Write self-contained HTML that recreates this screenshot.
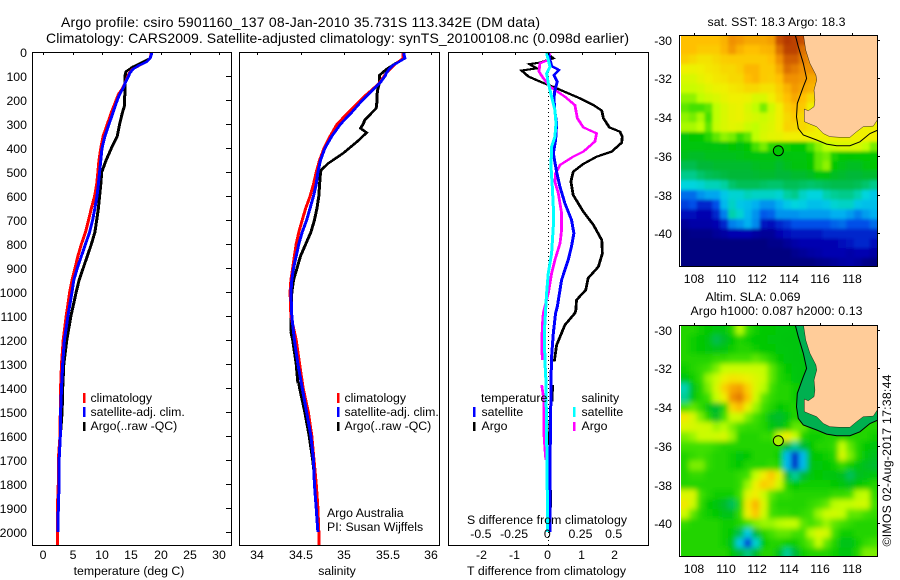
<!DOCTYPE html>
<html>
<head>
<meta charset="utf-8">
<title>Argo profile</title>
<style>
html,body{margin:0;padding:0;background:#fff;}
svg{display:block;}
text{font-family:"Liberation Sans",sans-serif;font-size:12.3px;fill:#000;}
.t{font-size:14px;}
.f{fill:none;stroke:#000;stroke-width:1;shape-rendering:crispEdges;}
.k{stroke:#000;stroke-width:1;shape-rendering:crispEdges;}
.l{fill:none;stroke-linejoin:miter;shape-rendering:crispEdges;}
</style>
</head>
<body>
<svg id="chart" xmlns="http://www.w3.org/2000/svg" width="900" height="580" viewBox="0 0 900 580">
<defs>
<clipPath id="c1"><rect x="33" y="52" width="198" height="493"/></clipPath>
<clipPath id="c2"><rect x="240" y="52" width="199" height="493"/></clipPath>
<clipPath id="c3"><rect x="449" y="52" width="199" height="493"/></clipPath>
<clipPath id="m1"><rect x="681" y="36" width="196" height="230"/></clipPath>
<clipPath id="m2"><rect x="681" y="326" width="196" height="230"/></clipPath>
<filter id="soft1" filterUnits="userSpaceOnUse" x="660" y="20" width="240" height="260"><feGaussianBlur stdDeviation="1.6"/></filter>
<filter id="soft2" filterUnits="userSpaceOnUse" x="660" y="310" width="240" height="260"><feGaussianBlur stdDeviation="2.6"/></filter>
</defs>
<text class="t" x="61" y="27" textLength="479">Argo profile: csiro 5901160_137 08-Jan-2010 35.731S 113.342E (DM data)</text>
<text class="t" x="46" y="43" textLength="583">Climatology: CARS2009. Satellite-adjusted climatology: synTS_20100108.nc (0.098d earlier)</text>

<g id="heat1" clip-path="url(#m1)"></g>
<g id="heat2" clip-path="url(#m2)"></g>
<g id="overlay1" clip-path="url(#m1)"></g>
<g id="overlay2" clip-path="url(#m2)"></g>

<g id="plot1" clip-path="url(#c1)"></g>
<g id="plot2" clip-path="url(#c2)"></g>
<g id="plot3" clip-path="url(#c3)"></g>
<g id="axes"></g>

<rect class="f" x="32.5" y="52.5" width="199" height="493"/>
<rect class="f" x="239.5" y="52.5" width="200" height="493"/>
<rect class="f" x="448.5" y="52.5" width="200" height="493"/>
<rect class="f" x="679.5" y="35.5" width="198" height="231"/>
<rect class="f" x="679.5" y="325.5" width="198" height="231"/>

<g>
<rect x="83" y="393" width="2.5" height="10" fill="#f00"/>
<rect x="83" y="407" width="2.5" height="10" fill="#00f"/>
<rect x="83" y="422" width="2.5" height="9" fill="#000"/>
<text x="90.5" y="402">climatology</text>
<text x="90.5" y="416">satellite-adj. clim.</text>
<text x="90.5" y="430">Argo(..raw -QC)</text>
</g>
<g>
<rect x="337" y="393" width="2.5" height="10" fill="#f00"/>
<rect x="337" y="407" width="2.5" height="10" fill="#00f"/>
<rect x="337" y="422" width="2.5" height="9" fill="#000"/>
<text x="344.5" y="402">climatology</text>
<text x="344.5" y="416">satellite-adj. clim.</text>
<text x="344.5" y="430">Argo(..raw -QC)</text>
</g>
<text x="327" y="517">Argo Australia</text>
<text x="327" y="531">PI: Susan Wijffels</text>
<g>
<text x="481" y="402">temperature</text>
<text x="581.5" y="402">salinity</text>
<rect x="473" y="407" width="2.5" height="10" fill="#00f"/>
<rect x="473" y="422" width="2.5" height="9" fill="#000"/>
<rect x="573" y="407" width="2.5" height="10" fill="#0ff"/>
<rect x="573" y="422" width="2.5" height="9" fill="#f0f"/>
<text x="481.5" y="416">satellite</text>
<text x="481.5" y="430">Argo</text>
<text x="581.5" y="416">satellite</text>
<text x="581.5" y="430">Argo</text>
</g>
<text x="467" y="524" textLength="160">S difference from climatology</text>
<text x="467" y="575" textLength="159">T difference from climatology</text>
<text x="129" y="575" text-anchor="middle">temperature (deg C)</text>
<text x="337" y="575" text-anchor="middle">salinity</text>
<text x="776.5" y="26" text-anchor="middle" textLength="138">sat. SST: 18.3 Argo: 18.3</text>
<text x="705.5" y="301">Altim. SLA: 0.069</text>
<text x="690.5" y="315" textLength="172">Argo h1000: 0.087 h2000: 0.13</text>
<text transform="translate(891,546.5) rotate(-90)" textLength="172">©IMOS 02-Aug-2017 17:38:44</text>
</svg>
<script>
// ---- profile data ----
const depthTicks = [0,100,200,300,400,500,600,700,800,900,1000,1100,1200,1300,1400,1500,1600,1700,1800,1900,2000];
const tempTicks = [0,5,10,15,20,25,30];
const salTicks = [34,34.5,35,35.5,36];
const salTickLabels = ['34','34.5','35','35.5','36'];
const diffTTicks = [-2,-1,0,1,2];
const diffSTicks = [-0.5,-0.25,0,0.25,0.5];
const diffSTickLabels = ['-0.5','-0.25','0','0.25','0.5'];

const climDepth = [0,10,25,40,55,70,85,100,125,150,175,200,250,300,350,400,450,500,550,600,650,700,750,800,850,900,950,1000,1100,1200,1300,1400,1500,1600,1700,1800,1900,2000,2060];
const tempClim = [18.35,18.35,18.2,17.6,16.4,15.2,14.7,14.4,14,13.5,12.8,12.4,11.6,10.9,10.2,9.8,9.5,9.3,9.1,8.75,8.2,7.7,7.2,6.5,5.9,5.4,4.9,4.5,3.9,3.4,3.1,2.95,2.9,2.85,2.55,2.55,2.4,2.4,2.4];
const salClim = [35.68,35.68,35.68,35.62,35.57,35.53,35.49,35.46,35.41,35.34,35.26,35.19,35.05,34.92,34.84,34.77,34.72,34.68,34.65,34.61,34.56,34.52,34.48,34.45,34.43,34.41,34.39,34.38,34.39,34.45,34.49,34.53,34.59,34.63,34.655,34.68,34.7,34.71,34.71];

const satDepth = [0,10,25,40,55,70,85,100,125,150,175,200,250,300,350,400,450,500,550,600,650,700,750,800,850,900,950,1000,1100,1200,1300,1400,1500,1600,1700,1800,1900,2000];
const tempSat = [18.4,18.4,18.2,17.6,16.3,15.3,14.8,14.5,14,13.6,13,12.6,11.9,11.2,10.5,10,9.8,9.6,9.4,9.15,8.8,8.4,7.9,7.2,6.5,5.8,5.2,4.9,4.2,3.6,3.3,3.1,2.95,2.9,2.7,2.7,2.55,2.5];
const salSat = [35.69,35.69,35.7,35.63,35.56,35.52,35.49,35.47,35.42,35.35,35.28,35.21,35.09,34.96,34.86,34.78,34.73,34.7,34.68,34.65,34.61,34.57,34.52,34.48,34.45,34.42,34.4,34.39,34.4,34.43,34.47,34.52,34.57,34.62,34.65,34.66,34.68,34.7];

const argoTempDepth = [0,10,25,40,60,80,100,125,150,175,200,225,250,300,350,400,450,500,550,600,650,700,750,800,850,900,950,1000,1100,1200,1300,1400,1500,1600,1700,1800,1900,1980];
const tempArgo = [18.4,18.4,18.2,17,15.3,14.1,13.9,13.9,13.9,13.9,13.8,13.8,13.5,13,12.6,11.6,10.7,9.95,9.8,9.6,9.4,9.1,8.8,8.2,7.5,6.8,6.1,5.6,4.7,4,3.5,3.3,3.2,2.9,2.7,2.7,2.45,2.4];
const argoSalDepth = [0,25,40,70,95,125,150,175,200,233,282,300,317,335,370,421,463,490,500,550,600,650,700,750,800,850,900,950,1000,1100,1165];
const salArgo = [35.68,35.68,35.62,35.49,35.41,35.41,35.39,35.38,35.38,35.37,35.24,35.22,35.19,35.26,35.16,34.99,34.82,34.74,34.73,34.72,34.71,34.69,34.66,34.62,34.56,34.5,34.46,34.42,34.4,34.39,34.39];
const argoSalDepth2 = [1165,1200,1300,1380,null,1380,1400,1500,1600,1700,1800,1900,2000];
const salArgo2 = [34.39,34.41,34.45,34.47,null,34.48,34.49,34.55,34.6,34.64,34.67,34.68,34.7];

const diffTArgoDepth = [4,25,43,49,67,76,101,122,136,150,168,192,220,243,275,313,331,352,377,414,435,466,498,539,595,664,720,783,838,894,942,991,1033,1074,1088,1137,1221,1290,null,1387,1457,null,1540,1554,1638,null,1777,1832,2000];
const diffTArgo = [-0.05,0.15,-0.25,-0.57,-0.35,-0.8,-0.6,-0.25,0,0.25,0.55,0.95,1.36,1.61,1.66,1.84,2.16,2.23,2.21,1.91,1.46,1.05,0.75,0.68,0.75,1.05,1.36,1.61,1.63,1.51,1.2,1.13,0.85,0.83,0.8,0.5,0.25,0.18,null,0.13,0.11,null,0.05,0.05,0.02,null,0,0.07,0.05];
const diffTSatDepth = [4,32,57,74,95,122,157,192,247,296,366,421,498,560,630,699,755,810,866,949,1061,1088,1172,1269,1366,1547,1700,1867,2000];
const diffTSat = [0,0.05,0.1,0.32,0.17,0.27,0.2,0.17,0.2,0.25,0.22,0.15,0.25,0.35,0.5,0.7,0.77,0.7,0.6,0.4,0.27,0.22,0.15,0.1,0.08,0.07,0.05,0.05,0.05];
const diffSArgoDepth = [4,32,46,81,108,143,185,220,275,313,338,372,414,435,470,505,539,588,671,741,797,866,922,1005,1088,1144,1241,1283,null,1387,1450,1589,1658,1700];
const diffSArgo = [0.0125,0,-0.063,-0.07,-0.038,0.0125,0.125,0.2,0.218,0.264,0.364,0.351,0.264,0.188,0.088,0.055,0.05,0.075,0.1,0.1,0.088,0.05,0.025,0,-0.038,-0.045,-0.05,-0.043,null,-0.05,-0.033,-0.033,-0.025,-0.018];
const diffSSatDepth = [4,32,60,88,129,185,241,296,352,394,477,560,644,727,838,921,1005,1075,1172,1297,1366,1589,1797,2000];
const diffSSat = [-0.0125,0,0.0125,-0.0125,0,0.025,0.05,0.058,0.05,0.025,0.02,0.03,0.038,0.038,0.025,0,-0.0125,-0.02,-0.03,-0.025,-0.018,-0.0125,-0.008,-0.005];

// ---- map data ----
const lonTicks = [108,110,112,114,116,118];
const latTicks = [-30,-32,-34,-36,-38,-40];
const gridLonStart = 107.15;
const gridLatStart = -29.76;
const gridStep = 0.5;
const argoLon = 113.342;
const argoLat = -35.731;
const sstRows = [
[21,21,21,21,21,21.3,22,21.8,21.5,21.5,21.5,21.7,23,23.5,23.3,23,22,22,22,22,22,22,22,22,22],
[21,21,20.8,20.8,20.8,21.2,21.8,21.3,21,21,21.2,21.3,22.5,23.3,23.3,22.5,22,22,22,22,22,22,22,22,22],
[20.7,20.5,20.3,20.3,20.5,20.7,20.8,20.8,20.8,20.8,20.8,21,22,22.8,22.8,22.3,22,22,22,22,22,22,22,22,22],
[20,19.9,20,20.2,20.3,20.5,20.5,20.7,21.2,21.2,20.8,20.8,21.5,22.5,22.3,22,22,22,22,22,22,22,22,22,22],
[19.5,19.5,19.8,20,20.2,20.3,20.5,20.5,21,21.2,20.8,20.7,21,22,22,21.8,21.5,21.5,21,21,21,21,21,21,21],
[19.2,19.2,19.4,19.7,19.9,20,20.2,20.3,20.5,20.5,20.3,20.3,20.7,21.3,21.8,21.5,21.3,21,21,21,21,21,21,21,21],
[18.8,18.8,19,19.3,19.5,19.8,20,20,19.9,19.5,19.5,20,20.5,21,21.5,21,20.5,20.5,20,20,20,20,20,20,20],
[18.6,18.5,18.5,18.6,19,19.5,19.8,19.9,19.5,19,18.7,19.3,20,20.7,21,20.8,20,20,20,20,20,20,20,20,20],
[18.8,18.7,18.9,18.5,19,19.5,19.8,19.9,19.6,19.4,19.2,19.5,20,20.5,20.8,20.5,20,20,20,20,20,20,20,20,20],
[18.9,18.9,19,18.6,19.1,19.5,19.7,19.6,19.2,19,19.4,19.6,20,20.6,20.5,20.5,20.3,20,20,20,20,20,20,20,20],
[17.8,17.9,18,18.3,18.6,18.8,18.7,18.4,18.6,19,19.5,19.7,19.8,20,20,20,20,20,20,20,20,20,20,20,20],
[17.8,17.8,17.8,17.7,17.8,17.7,17.9,17.7,18,18.5,18.7,18.3,18.2,18.1,18,18,18.5,18.8,19,19.3,19.5,19.5,19.5,19,18.7],
[17.5,17.3,17.3,17.5,17.5,17.5,17.5,17.6,17.7,17.8,17.8,17.8,17.6,17.7,17.8,17.8,18,18.6,18.7,18.2,18,17.9,18,18,18],
[16.8,16.8,17,17,17.2,17.2,17.2,17.2,17.2,17.4,17.5,17.5,17.2,17.5,17.7,17.7,17.9,18.6,18.8,18,17.6,17.4,17.4,17.7,17.9],
[16.2,16.2,16.5,16.7,16.8,16.9,17,17,17,17.1,17.2,17.2,17,17,17.2,17.2,17.4,17.8,17.7,17.4,17.2,17,17,17.2,17.2],
[15.5,15.5,15.6,15.8,15.8,16,16.5,16.7,16.7,16.7,16.6,16.5,16.5,16.7,16.7,16.6,16.5,16.6,16.7,16.8,16.8,16.8,16.7,16.5,16.2],
[14.3,14.3,14.7,14.9,14.9,15.3,15.6,15.6,15.8,15.7,15.7,15.7,15.6,16,16.2,15.7,15.5,15.5,15.9,16.1,16.2,16.2,15.9,15.5,15.3],
[13.8,14,13.5,13.5,14,15.1,15.7,15.3,15.2,15,14.7,14.7,15,15.3,15.5,15.4,15.2,15.2,15.3,15.6,15.7,15.7,15.3,15.2,15.2],
[13.2,13.2,13,13,13.5,14.5,15.9,15.6,15.1,14.7,14.1,14.2,14.7,14.7,14.7,14.8,14.8,14.8,14.8,15,15,14.8,14.5,14.8,15],
[12.5,12.8,12.8,12.8,13,13.5,14.5,14.7,15,14.6,13.3,13.2,13.5,13.7,14,14,14,14,14,14.2,14.3,14,14,14,14.3],
[12,12.2,12.2,12.2,12.5,12.7,13,13,13,12.7,12.5,12.5,13,13.2,13.3,13.3,13.3,13.3,13.5,13.5,13.5,13.5,13.5,13.5,13.5],
[12,12,12,12,12,12,12,12,12,12,12,12.2,12.2,12.5,12.8,13,13,13,13,13,13.2,13.3,13.5,13.5,13.2],
[12,12,12,12,12,12,12,12,12,12,12,12,12,12,12.3,12.5,12.7,12.8,13,13,13,12.8,13,13,12.7],
[12,12,12,12,12,12,12,12,12,12,12,12,12,12,12,12,12,12.2,12.3,12.5,12.7,12.8,12.6,12.2,12]
];
const slaRows = [
[0,0,-1,-2,-3,-3,0,6,1,-1,-2,-2,-3,-3,-4,-4,-4,0,0,0,0,0,0,0,0],
[0,-1,-2,-4,-12,-8,-2,0,-1,-2,-2,-3,-3,-4,-4,-5,-5,0,0,0,0,0,0,0,0],
[0,-1,-2,-3,-5,-3,-1,0,0,-1,-2,-2,-3,-3,-4,-5,-5,0,0,0,0,0,0,0,0],
[0,0,0,0,1,1,2,2,2,3,2,0,-2,-3,-4,-4,-4,0,0,0,0,0,0,0,0],
[-1,0,1,2,4,7,8,8,8,8,7,3,0,-2,-3,-4,-4,0,0,0,0,0,0,0,0],
[-3,-1,1,5,8,14,17,16,14,11,8,3,0,-1,-3,-4,-4,0,0,0,0,0,0,0,0],
[-20,-5,0,4,10,20,27,29,20,11,6,2,0,0,-1,-3,-3,0,0,0,0,0,0,0,0],
[-18,-4,0,2,7,15,31,34,23,9,3,1,0,0,-1,-3,-3,0,0,0,0,0,0,0,0],
[2,3,1,-3,-9,0,19,24,13,5,2,0,-2,-1,0,-3,-3,0,0,0,0,0,0,0,0],
[16,10,4,0,-8,2,8,8,4,2,0,-6,-9,-4,0,-2,-2,0,0,0,0,0,0,0,0],
[11,10,9,8,5,6,4,2,1,1,0,-3,-6,-1,3,3,0,0,0,0,0,0,0,0,0],
[4,5,8,8,9,10,5,0,0,0,1,1,8,15,7,0,-1,-1,0,0,0,0,0,0,-1],
[2,2,2,2,1,0,0,0,0,0,0,0,0,-10,-18,-10,-2,0,0,1,7,3,0,-2,-3],
[0,1,2,1,0,0,-1,-3,-2,0,0,0,-1,-26,-40,-26,-4,-2,-1,0,10,4,0,-3,-6],
[0,4,4,1,0,0,-1,-2,0,0,0,1,0,-26,-40,-26,-5,-3,-2,-1,1,-1,-3,-7,-9],
[0,1,1,0,0,0,0,1,2,7,15,22,12,-10,-18,-10,-3,-2,-3,-4,-6,-13,-7,-5,-3],
[0,0,0,0,0,0,0,1,5,14,21,18,9,0,-2,-1,-1,-1,-1,-2,-3,-6,-2,-1,0],
[11,11,2,0,-1,-1,-1,2,11,15,8,3,1,1,0,0,0,0,0,1,1,2,6,7,1],
[16,9,1,-2,-4,-8,-13,0,16,25,11,2,0,0,0,0,1,2,3,6,7,7,9,9,2],
[9,3,0,-1,-2,-5,-5,1,14,22,9,2,1,1,0,1,2,5,8,9,7,3,3,2,1],
[1,0,0,0,0,-1,-1,0,2,4,5,5,6,7,7,3,2,3,5,3,2,1,0,0,0],
[0,0,0,0,0,-1,-2,-12,-24,-10,0,2,3,3,2,2,6,11,9,2,-1,-1,0,0,0],
[0,0,0,0,0,-1,-6,-24,-38,-22,-2,0,0,-1,-1,1,3,7,3,0,-5,-5,-1,1,2],
[0,0,0,0,0,0,-2,-10,-16,-8,0,0,-6,-18,-10,-1,0,0,0,-1,-3,-3,0,4,4]
];
const coastLon = [114.93,115.08,115.35,115.73,115.78,115.61,115.67,115.61,115.25,114.99,114.99,115.35,115.78,116.2,116.62,117.26,117.89,118.32,118.74,119.38,119.63,119.8,119.8];
const coastLat = [-29.7,-30.53,-31.22,-31.82,-32.08,-32.6,-33.12,-33.46,-33.67,-33.58,-34.23,-34.35,-34.49,-34.84,-35.01,-35.04,-35.04,-34.75,-34.49,-34.46,-34.15,-34.15,-29.7];
const contourLon = [114.4,114.61,114.93,115.14,114.93,114.55,114.5,114.61,114.93,115.78,116.41,117.05,117.89,118.53,119.17,119.8];
const contourLat = [-29.7,-30.36,-31.22,-32,-32.43,-33.29,-33.98,-34.58,-34.92,-35.18,-35.39,-35.47,-35.47,-35.27,-34.84,-34.62];
const colorPos = [0,0.083,0.167,0.25,0.29,0.333,0.417,0.5,0.54,0.583,0.667,0.75,0.833,0.917,1];
const colorR = [0,0,0,0,0,0,0,0,64,192,240,255,240,200,160];
const colorG = [0,0,80,176,212,208,184,200,224,255,240,192,144,80,32];
const colorB = [128,176,232,240,224,160,56,0,0,0,0,0,0,0,0];

// ---- axis functions ----
const yDepth = d => 52.3 + 0.2398 * d;
const xTemp = t => 43.3 + 5.867 * t;
const xSal = s => 257 + 87 * (s - 34);
const xDiffT = t => 548.3 + 33.2 * t;
const xDiffS = s => 548.3 + 132.8 * s;
const xLon = lon => 694.3 + 15.73 * (lon - 108);
const yLat1 = lat => 39.7 + 19.37 * (-30 - lat);
const yLat2 = lat => 329.7 + 19.37 * (-30 - lat);
const tSst = v => (v - 12) / 12;
const tSla = v => (v + 52) / 100;

const NS = 'http://www.w3.org/2000/svg';
function make(tag, parent, attrs) {
  const el = document.createElementNS(NS, tag);
  for (const k in attrs) el.setAttribute(k, attrs[k]);
  parent.appendChild(el);
  return el;
}
function colorOf(t) {
  t = Math.max(0, Math.min(1, t));
  let i = 0;
  while (i < colorPos.length - 2 && t > colorPos[i + 1]) i++;
  const f = (t - colorPos[i]) / (colorPos[i + 1] - colorPos[i]);
  const m = a => Math.round(a[i] + (a[i + 1] - a[i]) * f);
  return 'rgb(' + m(colorR) + ',' + m(colorG) + ',' + m(colorB) + ')';
}
function pathOf(xs, ys, xf, yf) {
  let d = '', pen = false;
  for (let i = 0; i < xs.length; i++) {
    if (xs[i] === null || ys[i] === null) { pen = false; continue; }
    d += (pen ? 'L' : 'M') + xf(xs[i]).toFixed(1) + ' ' + yf(ys[i]).toFixed(1);
    pen = true;
  }
  return d;
}
// the original pen is wider horizontally than vertically: draw two overlapping offset strokes
function drawLine(parent, vals, depths, xf, color, spread) {
  const group = make('g', parent, {});
  
  
  [-spread, spread].forEach(dx => {
    const el = make('path', group, {d: pathOf(vals, depths, xf, yDepth), stroke: color, 'stroke-width': 2, 'class': 'l', transform: 'translate(' + dx + ',0)'});
    
    
  });
  return group;
}

const plot1 = document.getElementById('plot1');
const plot2 = document.getElementById('plot2');
const plot3 = document.getElementById('plot3');
drawLine(plot1, tempArgo, argoTempDepth, xTemp, '#000', 0.5);
drawLine(plot1, tempClim, climDepth, xTemp, '#f00', 0.5);
drawLine(plot1, tempSat, satDepth, xTemp, '#00f', 0.5);
drawLine(plot2, salArgo, argoSalDepth, xSal, '#000', 0.5);
drawLine(plot2, salArgo2, argoSalDepth2, xSal, '#000', 0.5);
drawLine(plot2, salClim, climDepth, xSal, '#f00', 0.5);
drawLine(plot2, salSat, satDepth, xSal, '#00f', 0.5);

const zero = make('line', plot3, {x1: xDiffT(0), x2: xDiffT(0), y1: 52, y2: 545, stroke: '#000', 'stroke-width': 1, 'stroke-dasharray': '1 3', 'shape-rendering': 'crispEdges'});


drawLine(plot3, diffTArgo, diffTArgoDepth, xDiffT, '#000', 0.4);
drawLine(plot3, diffSArgo, diffSArgoDepth, xDiffS, '#f0f', 0.4);
drawLine(plot3, diffTSat, diffTSatDepth, xDiffT, '#00f', 0.5);
drawLine(plot3, diffSSat, diffSSatDepth, xDiffS, '#0ff', 0.5);

// ---- axes ----
const axes = document.getElementById('axes');
function tick(x1, y1, x2, y2) {
  const el = make('line', axes, {x1: x1, y1: y1, x2: x2, y2: y2, 'class': 'k'});
  
  
}
function label(x, y, s, anchor) {
  const el = make('text', axes, {x: x, y: y, 'text-anchor': anchor});
  el.textContent = s;
  
  
}
depthTicks.forEach(d => {
  const y = Math.round(yDepth(d)) + 0.5;
  tick(226, y, 231, y);
  label(27, y + 4.5, String(d), 'end');
});
tempTicks.forEach(t => {
  const x = Math.round(xTemp(t)) + 0.5;
  tick(x, 52, x, 55);
  label(x - 0.5, 559, String(t), 'middle');
});
salTicks.forEach((s, i) => {
  const x = Math.round(xSal(s)) + 0.5;
  tick(x, 52, x, 55);
  label(x - 0.5, 559, salTickLabels[i], 'middle');
});
diffTTicks.forEach(t => {
  const x = Math.round(xDiffT(t)) + 0.5;
  tick(x, 52, x, 55);
  label(x - 1, 559, t < 0 ? '-' + Math.abs(t) : String(t), 'middle');
});
diffSTicks.forEach((s, i) => {
  label(xDiffS(s) - 1, 538, diffSTickLabels[i], 'middle');
});
[[yLat1, 35, 266], [yLat2, 325, 556]].forEach(cfg => {
  const yLat = cfg[0];
  lonTicks.forEach(lon => {
    const x = Math.round(xLon(lon)) + 0.5;
    tick(x, cfg[1] - 2, x, cfg[1]);
    label(x - 0.5, cfg[2] + 17, String(lon), 'middle');
  });
  latTicks.forEach(lat => {
    const y = Math.round(yLat(lat)) + 0.5;
    tick(877, y, 880, y);
    label(672, y + 4.5, String(lat), 'end');
  });
});

// ---- maps ----
function drawMap(rows, toT, yLat, gId, filterId) {
  const host = document.getElementById(gId);
  const g = make('g', host, {filter: 'url(#' + filterId + ')'});
  
  
  const top = yLat(gridLatStart), stepY = yLat(gridLatStart - gridStep) - top;
  const left = xLon(gridLonStart), stepX = xLon(gridLonStart + gridStep) - left;
  rows.forEach((row, j) => {
    row.forEach((v, i) => {
      const padL = i === 0 ? 10 : 0, padR = i === row.length - 1 ? 10 : 0;
      const padT = j === 0 ? 10 : 0, padB = j === rows.length - 1 ? 10 : 0;
      const cell = make('rect', g, {
        x: left + i * stepX - padL,
        y: top + j * stepY - padT,
        width: stepX + 0.4 + padL + padR,
        height: stepY + 0.4 + padT + padB,
        fill: colorOf(toT(v))
      });
      
      
    });
  });
}
drawMap(sstRows, tSst, yLat1, 'heat1', 'soft1');
drawMap(slaRows, tSla, yLat2, 'heat2', 'soft2');

function drawOverlay(id, yLat, dotFill, shelfFill) {
  const g = document.getElementById(id);
  if (shelfFill) {
    const sx = contourLon.concat(coastLon.slice(0, 21).reverse());
    const sy = contourLat.concat(coastLat.slice(0, 21).reverse());
    const shelf = make('path', g, {d: pathOf(sx, sy, xLon, yLat) + 'Z', fill: shelfFill});
    
    
  }
  const land = make('path', g, {d: pathOf(coastLon, coastLat, xLon, yLat) + 'Z', fill: '#ffcc99', stroke: '#000', 'stroke-width': 0.4});
  
  
  const contour = make('path', g, {d: pathOf(contourLon, contourLat, xLon, yLat), fill: 'none', stroke: '#000', 'stroke-width': 1});
  
  
  const dot = make('circle', g, {cx: xLon(argoLon), cy: yLat(argoLat), r: 5, fill: dotFill, stroke: '#000', 'stroke-width': 1});
  
  
}
drawOverlay('overlay1', yLat1, '#00c800', null);
drawOverlay('overlay2', yLat2, '#a8f000', '#00b050');
</script>
</body>
</html>
